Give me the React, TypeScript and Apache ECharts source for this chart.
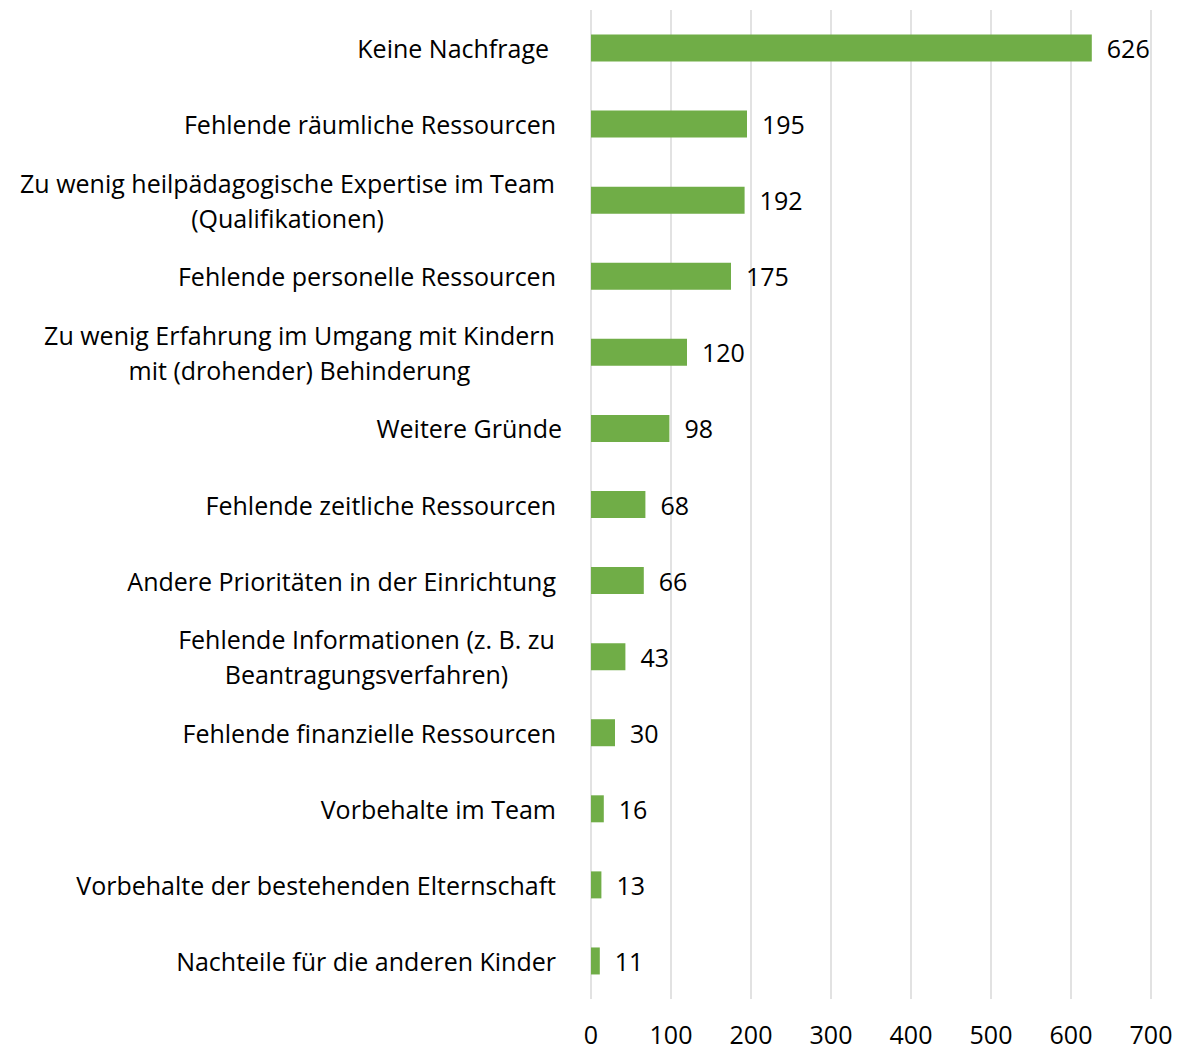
import React, { useEffect, useRef } from "react";
import * as echarts from "echarts";

const categories = [
  "Keine Nachfrage",
  "Fehlende räumliche Ressourcen",
  "Zu wenig heilpädagogische Expertise im Team\n(Qualifikationen)",
  "Fehlende personelle Ressourcen",
  "Zu wenig Erfahrung im Umgang mit Kindern\nmit (drohender) Behinderung",
  "Weitere Gründe",
  "Fehlende zeitliche Ressourcen",
  "Andere Prioritäten in der Einrichtung",
  "Fehlende Informationen (z. B. zu\nBeantragungsverfahren)",
  "Fehlende finanzielle Ressourcen",
  "Vorbehalte im Team",
  "Vorbehalte der bestehenden Elternschaft",
  "Nachteile für die anderen Kinder",
];
const values = [626, 195, 192, 175, 120, 98, 68, 66, 43, 30, 16, 13, 11];
const xTicks = [0, 100, 200, 300, 400, 500, 600, 700];

const FONT = "Open Sans";
const FS = 25;

export default function App() {
  const ref = useRef<HTMLDivElement>(null);
  useEffect(() => {
    document.body.style.margin = "0";
    const chart = echarts.init(ref.current!, null, { renderer: "svg" });
    const canvas = document.createElement("canvas");
    const ctx = canvas.getContext("2d")!;
    ctx.font = `${FS}px "${FONT}"`;
    const richMap: any = {};
    categories.forEach((c, i) => {
      const lines = c.split("\n");
      const w = Math.ceil(Math.max(...lines.map((l) => ctx.measureText(l).width))) + 2;
      richMap["c" + i] = { width: w, align: "center", fontSize: FS, fontFamily: FONT, color: "#000", lineHeight: 35 };
    });
    const yData = categories.map((c, i) => {
      const item: any = { value: c };
      if (i === 0) item.textStyle = { padding: [0, 7, 0, 0] };
      if (i === 5) item.textStyle = { padding: [0, -6, 0, 0] };
      return item;
    });
    chart.setOption({
      animation: false,
      grid: { left: 591, right: 29, top: 10, bottom: 51, containLabel: false },
      xAxis: {
        type: "value",
        min: xTicks[0],
        max: xTicks[xTicks.length - 1],
        interval: 100,
        axisLine: { show: false },
        axisTick: { show: false },
        splitLine: { show: true, lineStyle: { color: "#d9d9d9", width: 1.5 } },
        axisLabel: { color: "#000", fontSize: FS, fontFamily: FONT, margin: 22 },
      },
      yAxis: {
        type: "category",
        inverse: true,
        data: yData,
        axisLine: { show: false },
        axisTick: { show: false },
        axisLabel: {
          color: "#000",
          fontSize: FS,
          fontFamily: FONT,
          margin: 35,
          lineHeight: 35,
          interval: 0,
          formatter: (v: string) => {
            const i = categories.indexOf(v);
            if (v.indexOf("\n") < 0) return v;
            return v.split("\n").map((l) => `{c${i}|${l}}`).join("\n");
          },
          rich: richMap,
        },
      },
      series: [
        {
          type: "bar",
          data: values,
          barWidth: 27,
          itemStyle: { color: "#70ad47" },
          label: {
            show: true,
            position: "right",
            distance: 15,
            color: "#000",
            fontSize: FS,
            fontFamily: FONT,
          },
        },
      ],
    });
    return () => chart.dispose();
  }, []);
  return <div ref={ref} style={{ width: 1180, height: 1050, position: "absolute", left: 0, top: 0 }} />;
}
